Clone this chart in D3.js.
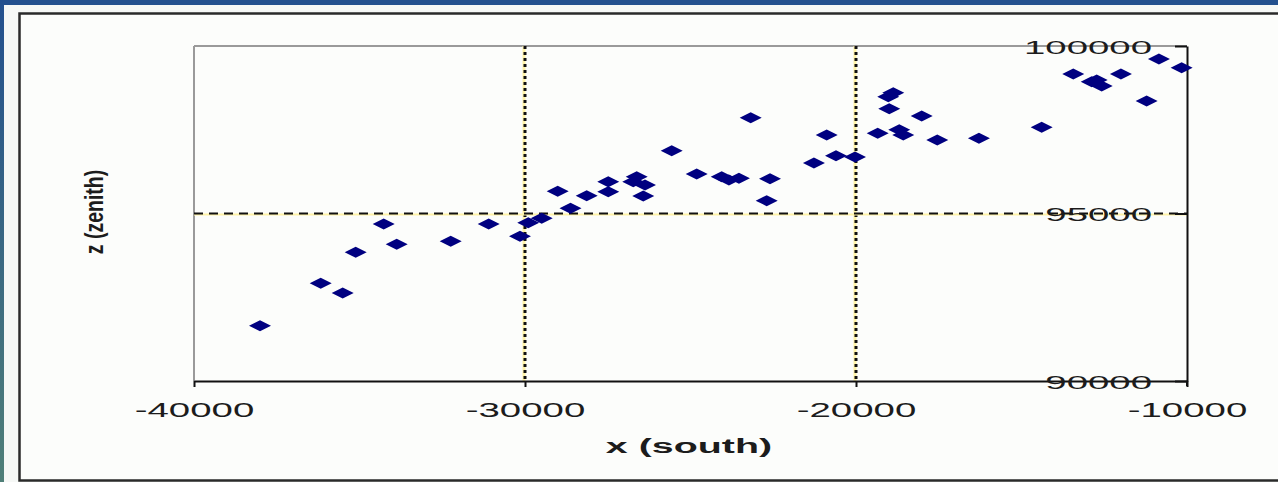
<!DOCTYPE html>
<html>
<head>
<meta charset="utf-8">
<script src="https://cdn.jsdelivr.net/npm/d3@7/dist/d3.min.js"></script>
<style>
  html, body { margin: 0; padding: 0; background: #f6f8f6; overflow: hidden; }
  svg { display: block; }
  .tick text { font-family: "Liberation Sans", Arial, sans-serif; fill: #1c1c1c; }
</style>
</head>
<body>
<svg id="chart" width="1278" height="482"></svg>
<script>
// x (south) and z (zenith) values
var xSouth = [-38006, -36172, -35508, -35115, -34269, -33876, -32245, -31097, -30152, -29901,
              -29496, -29013, -28626, -28137, -27484, -27484, -26626, -26729, -26375, -26427,
              -25569, -24813, -24058, -23838, -23536, -23182, -22599, -22699, -21270, -20886,
              -20605, -20031, -19345, -19025, -18874, -18995, -18693, -18572, -18016, -17545,
              -16285, -14391, -13436, -12880, -12729, -12578, -11995, -11219, -10847, -10162];
var zZenith = [91651, 92917, 92627, 93842, 94687, 94081, 94170, 94687, 94320, 94726,
               94857, 95663, 95158, 95531, 95949, 95651, 96099, 95949, 95851, 95522,
               96875, 96179, 96099, 96000, 96051, 97860, 96039, 95382, 96508, 97343,
               96725, 96687, 97394, 98487, 98606, 98128, 97502, 97343, 97910, 97194,
               97245, 97573, 99164, 98934, 98985, 98806, 99164, 98358, 99612, 99352];

var xTicks = [-40000, -30000, -20000, -10000];
var zTicks = [90000, 95000, 100000];
var xGrid = [-30000, -20000];
var zGrid = [95000];

var svg = d3.select("#chart");

// frame: blue bands and the white panel
var defs = svg.append("defs");
var grad = defs.append("linearGradient").attr("id", "leftband")
  .attr("x1", 0).attr("y1", 0).attr("x2", 0).attr("y2", 1);
grad.append("stop").attr("offset", "0%").attr("stop-color", "#23508e");
grad.append("stop").attr("offset", "100%").attr("stop-color", "#4f7f78");

svg.append("rect").attr("x", 0).attr("y", 0).attr("width", 1278).attr("height", 5).attr("fill", "#23508e");
svg.append("rect").attr("x", 0).attr("y", 0).attr("width", 4).attr("height", 482).attr("fill", "url(#leftband)");

svg.append("rect")
  .attr("x", 19.5).attr("y", 13.5).attr("width", 1300).attr("height", 467)
  .attr("fill", "#fcfdfb").attr("stroke", "#2a2a2a").attr("stroke-width", 2.5);

var margin = {left: 194, top: 46, right: 1187, bottom: 381};

var x = d3.scaleLinear().domain([-40000, -10000]).range([margin.left, margin.right]);
var y = d3.scaleLinear().domain([90000, 100000]).range([margin.bottom, margin.top]);

// plot area border (grey left and top)
svg.append("line")
  .attr("x1", margin.left).attr("x2", margin.left).attr("y1", margin.top).attr("y2", margin.bottom)
  .attr("stroke", "#9a9a9a").attr("stroke-width", 2);
svg.append("line")
  .attr("x1", margin.left).attr("x2", margin.right).attr("y1", margin.top).attr("y2", margin.top)
  .attr("stroke", "#9a9a9a").attr("stroke-width", 2);

// gridlines: a pale yellow line under a black dotted / dashed one
svg.selectAll(".vgrid-bg").data(xGrid).enter().append("line")
  .attr("x1", function(d) { return x(d) - 1; }).attr("x2", function(d) { return x(d) - 1; })
  .attr("y1", margin.top).attr("y2", margin.bottom)
  .attr("stroke", "#fff3a8").attr("stroke-width", 3);
svg.selectAll(".vgrid").data(xGrid).enter().append("line")
  .attr("x1", function(d) { return x(d); }).attr("x2", function(d) { return x(d); })
  .attr("y1", margin.top).attr("y2", margin.bottom)
  .attr("stroke", "#111").attr("stroke-width", 3).attr("stroke-dasharray", "3,3");

svg.selectAll(".hgrid-bg").data(zGrid).enter().append("line")
  .attr("x1", margin.left).attr("x2", margin.right)
  .attr("y1", function(d) { return y(d) + 1; }).attr("y2", function(d) { return y(d) + 1; })
  .attr("stroke", "#fff3a8").attr("stroke-width", 2);
svg.selectAll(".hgrid").data(zGrid).enter().append("line")
  .attr("x1", margin.left).attr("x2", margin.right)
  .attr("y1", function(d) { return y(d); }).attr("y2", function(d) { return y(d); })
  .attr("stroke", "#111").attr("stroke-width", 2).attr("stroke-dasharray", "9,6");

// x axis (bottom)
var xAxis = svg.append("g")
  .attr("transform", "translate(0," + margin.bottom + ")")
  .call(d3.axisBottom(x).tickValues(xTicks).tickSize(6).tickSizeOuter(0)
    .tickFormat(function(d) { return String(d); }));
xAxis.select(".domain").attr("stroke", "#111").attr("stroke-width", 2);
xAxis.selectAll(".tick line").attr("stroke", "#111").attr("stroke-width", 2);
xAxis.selectAll(".tick text")
  .attr("y", 0).attr("dy", 0)
  .attr("font-size", 21)
  .attr("transform", "translate(0,36) scale(1.83,1)");

// z axis (right side, labels inside)
var zAxis = svg.append("g")
  .attr("transform", "translate(" + margin.right + ",0)")
  .call(d3.axisLeft(y).tickValues(zTicks).tickSize(12).tickSizeOuter(0)
    .tickFormat(function(d) { return String(d); }));
zAxis.select(".domain").attr("stroke", "#111").attr("stroke-width", 2);
zAxis.selectAll(".tick line").attr("stroke", "#111").attr("stroke-width", 2);
zAxis.selectAll(".tick text")
  .attr("x", 0).attr("dy", 0)
  .attr("font-size", 19)
  .attr("text-anchor", "end")
  .attr("transform", "translate(-35,7) scale(2.02,1)");
// right axis runs a little below the x axis
svg.append("line")
  .attr("x1", margin.right).attr("x2", margin.right)
  .attr("y1", margin.bottom).attr("y2", margin.bottom + 5)
  .attr("stroke", "#111").attr("stroke-width", 2);

// points
var diamond = "M0,-5.5L11,0L0,5.5L-11,0Z";
svg.selectAll(".pt").data(xSouth).enter().append("path")
  .attr("class", "pt")
  .attr("d", diamond)
  .attr("transform", function(d, i) { return "translate(" + x(d) + "," + y(zZenith[i]) + ")"; })
  .attr("fill", "#000080");

// axis titles
svg.append("text")
  .attr("transform", "translate(689,453) scale(1.97,1)")
  .attr("text-anchor", "middle")
  .attr("font-family", "'Liberation Sans', Arial, sans-serif")
  .attr("font-weight", "bold").attr("font-size", 20).attr("fill", "#1c1c1c")
  .text("x (south)");

svg.append("text")
  .attr("transform", "translate(103,212) rotate(-90) scale(0.75,1)")
  .attr("text-anchor", "middle")
  .attr("font-family", "'Liberation Sans', Arial, sans-serif")
  .attr("font-weight", "bold").attr("font-size", 26).attr("fill", "#1c1c1c")
  .text("z (zenith)");
</script>
</body>
</html>
